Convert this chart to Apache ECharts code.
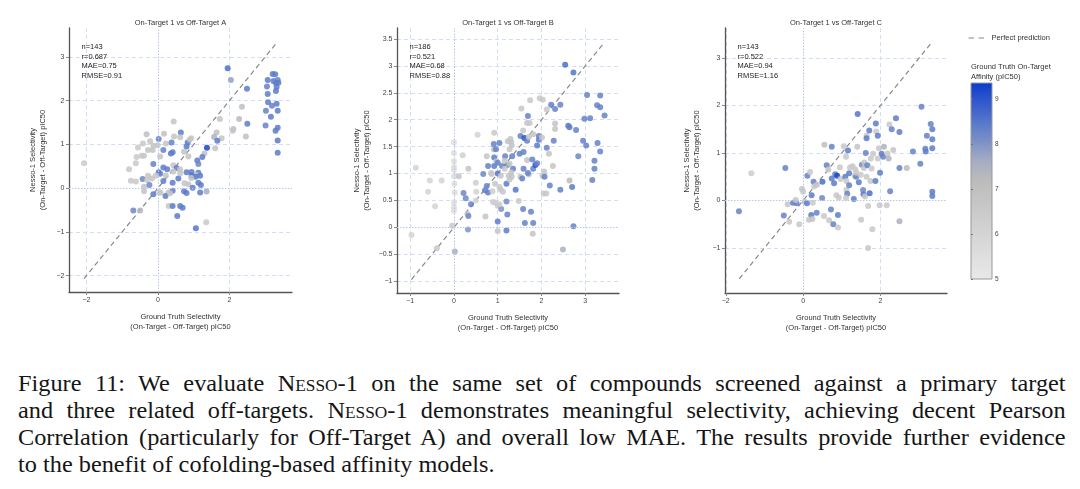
<!DOCTYPE html>
<html>
<head>
<meta charset="utf-8">
<script src="https://cdn.jsdelivr.net/npm/echarts@6.0.0/dist/echarts.min.js"></script>
<style>
  html, body { margin: 0; padding: 0; background: #fff; }
  #wrap { position: relative; width: 1080px; height: 489px; overflow: hidden; }
  #chart { position: absolute; left: 0; top: 0; width: 1080px; height: 350px; }
  #cap { position: absolute; left: 18px; top: 369.5px; width: 970px;
         transform: scaleX(1.08); transform-origin: 0 0;
         font-family: "Liberation Serif", "DejaVu Serif", serif; font-size: 22.5px;
         line-height: 27.2px; color: #151515; }
  #cap div { white-space: nowrap; }
  #cap .j { text-align: justify; text-align-last: justify; }
  #cap .l { text-align: left; }
  .sc { font-variant: small-caps; }
</style>
</head>
<body>
<div id="wrap">
  <div id="chart"></div>
  <div id="cap">
    <div class="j">Figure 11: We evaluate <span class="sc">Nesso</span>-1 on the same set of compounds screened against a primary target</div>
    <div class="j">and three related off-targets. <span class="sc">Nesso</span>-1 demonstrates meaningful selectivity, achieving decent Pearson</div>
    <div class="j">Correlation (particularly for Off-Target A) and overall low MAE. The results provide further evidence</div>
    <div class="l">to the benefit of cofolding-based affinity models.</div>
  </div>
</div>
<script>
// ---------------- DATA ----------------
const panelTitles = ['On-Target 1 vs Off-Target A', 'On-Target 1 vs Off-Target B', 'On-Target 1 vs Off-Target C'];
const statN = [143, 186, 143];
const statR = ['0.687', '0.521', '0.522'];
const statMAE = ['0.75', '0.68', '0.94'];
const statRMSE = ['0.91', '0.88', '1.16'];

const xTicks = [[-2, 0, 2], [-1, 0, 1, 2, 3], [-2, 0, 2]];
const yTicks = [[-2, -1, 0, 1, 2, 3], [-1, -0.5, 0, 0.5, 1, 1.5, 2, 2.5, 3, 3.5], [-1, 0, 1, 2, 3]];
const xRange = [[-2.49, 3.75], [-1.30, 3.77], [-2.02, 3.72]];
const yRange = [[-2.375, 3.66], [-1.22, 3.705], [-1.95, 3.63]];

// perfect prediction line endpoints (y = x)
const diagA = [-2.07, 3.34];
const diagB = [-0.97, 3.44];
const diagC = [-1.65, 3.35];

// colour bar
const cbTicks = [5, 6, 7, 8, 9];
const cbRange = [5, 9.35];

// Panel A: ground truth selectivity, predicted selectivity, ground-truth on-target pIC50
const gtA = [-2.07,1.95,2.04,2.49,2.35,2.27,2.50,2.11,2.09,2.46,1.73,1.64,1.78,1.57,1.66,1.60,1.37,1.30,1.24,1.10,1.13,
  3.21,3.28,3.07,3.23,3.35,3.30,3.37,3.05,3.32,3.30,3.07,3.08,3.32,3.19,3.02,3.35,3.16,3.01,3.35,3.29,3.35,3.35,
  0.44,-0.32,0.17,0.45,0.64,0.62,0.02,-0.22,-0.42,-0.13,-0.01,0.22,0.38,0.83,0.89,0.93,-0.56,-0.28,-0.15,0.15,0.41,0.36,0.80,0.73,0.85,
  -0.60,-0.45,-0.39,0.06,-0.62,-0.13,-0.81,0.43,0.15,0.26,0.52,0.62,0.43,0.02,0.22,0.06,-0.06,1.13,0.94,0.80,1.08,0.94,1.05,1.18,0.93,
  -0.28,-0.43,-0.17,-0.30,-0.76,-0.62,0.15,0.41,0.57,0.62,0.74,1.13,1.20,0.85,0.97,-0.39,-0.24,-0.39,0.04,0.07,0.29,0.41,0.73,0.80,1.18,1.36,
  -0.13,0.21,0.34,0.30,0.41,0.62,0.69,-0.69,-0.50,0.54,1.35,1.06];
const predA = [0.57,2.74,2.47,2.27,1.86,1.58,1.47,1.35,1.31,1.18,1.58,1.27,1.14,1.17,1.08,0.91,0.92,0.79,0.71,0.63,0.55,
  2.61,2.60,2.47,2.45,2.47,2.40,2.41,2.32,2.31,2.22,2.15,1.96,1.93,1.88,1.77,1.77,1.63,1.43,1.38,1.31,1.09,0.81,
  1.52,1.23,1.24,1.18,1.27,1.16,1.12,1.07,1.02,0.97,0.98,1.02,1.04,1.04,1.11,1.14,0.93,0.87,0.87,0.87,0.82,0.79,0.95,0.83,0.72,
  0.71,0.74,0.74,0.72,0.57,0.55,0.43,0.52,0.47,0.43,0.46,0.43,0.38,0.36,0.29,0.33,0.28,0.35,0.37,0.36,0.30,0.28,0.26,0.28,0.23,
  0.28,0.21,0.22,0.18,0.17,0.15,0.16,0.12,0.22,0.34,0.11,0.12,0.07,0.09,0.01,0.03,0.07,-0.07,-0.10,-0.10,-0.10,-0.06,-0.07,-0.11,-0.10,-0.08,
  -0.14,-0.18,-0.12,-0.41,-0.41,-0.41,-0.45,-0.51,-0.51,-0.64,-0.78,-0.92];
const affA = [6.5,8.6,7.8,8.4,7.0,7.2,8.4,7.0,6.8,7.0,6.8,7.0,6.8,7.5,8.4,6.8,9.2,7.0,8.4,8.4,8.2,
  8.4,8.4,8.4,8.4,8.3,8.4,8.4,8.3,8.4,8.4,8.4,8.4,8.4,8.3,8.3,8.4,8.4,8.3,8.4,8.4,8.4,8.4,
  6.8,7.0,6.9,6.8,8.4,6.8,8.3,6.8,6.6,6.8,6.8,6.8,8.3,8.4,6.8,6.8,6.6,6.8,6.8,8.3,8.4,8.4,8.4,6.8,6.8,
  6.6,6.8,6.6,6.8,6.6,8.3,6.6,6.8,8.4,8.4,8.4,6.8,6.8,8.4,6.8,8.3,6.8,8.4,8.4,8.4,6.8,8.5,8.4,8.4,6.8,
  6.8,8.2,6.8,6.6,6.6,6.6,8.4,8.4,8.4,6.8,6.8,8.4,8.4,6.8,8.4,6.8,8.2,6.8,6.8,6.6,6.8,8.4,8.4,8.4,8.4,7.6,
  8.4,8.4,6.8,6.8,8.4,8.4,8.4,8.2,7.4,8.4,6.6,8.5];

// Panel B
const gtB = [-0.97,-0.87,-0.55,-0.59,-0.28,-0.43,-0.39,
  0.00,0.00,0.00,0.00,0.00,0.00,0.01,0.02,0.00,0.00,0.00,-0.04,0.02,
  0.11,0.20,0.33,0.54,0.50,0.50,0.51,0.22,0.27,0.39,0.31,0.33,0.32,0.72,0.67,0.71,0.78,0.75,0.78,0.75,0.85,0.91,0.91,0.92,0.96,0.92,0.92,
  1.00,0.97,1.04,1.00,1.04,0.94,1.07,1.12,0.94,1.00,1.08,1.00,1.00,1.20,1.22,1.20,1.17,1.10,1.20,1.07,1.22,1.27,1.23,1.29,1.31,1.27,1.33,
  1.32,1.35,1.31,1.25,1.32,1.27,1.41,1.48,1.54,1.52,1.61,1.50,1.59,1.52,1.56,1.59,1.58,1.62,1.58,1.69,1.67,1.73,1.74,1.67,1.71,1.67,1.71,
  1.69,1.76,1.81,1.80,1.81,1.79,1.81,1.86,1.90,1.90,1.94,1.94,2.01,1.96,2.03,2.02,2.06,2.07,2.05,2.11,2.12,2.17,2.12,2.22,2.31,2.31,2.31,
  2.28,2.26,2.19,2.43,2.43,2.49,2.54,2.73,2.61,2.64,2.79,2.64,2.70,2.73,2.84,2.95,2.98,3.02,3.04,3.11,3.16,3.21,3.21,3.27,3.28,3.34,3.34,
  3.34,3.44,0.86,1.16,1.16,1.04,0.88,0.89];
const predB = [-0.14,1.11,0.87,0.66,0.87,0.39,-0.39,
  1.58,1.38,1.23,1.12,1.07,0.95,0.81,0.65,0.46,0.37,0.31,0.03,-0.45,
  0.95,1.34,1.09,1.72,0.83,0.50,0.66,0.64,0.54,0.43,0.25,0.21,-0.04,0.20,0.99,0.69,0.65,0.77,1.14,1.32,1.01,1.45,1.55,1.76,1.45,1.30,1.14,
  1.00,1.23,1.57,1.20,0.75,0.81,0.70,0.66,0.46,0.40,0.34,0.11,-0.07,0.48,0.24,-0.06,1.32,1.14,0.81,0.96,1.16,1.18,1.60,1.64,1.58,1.45,1.32,
  1.52,1.09,1.02,0.96,0.94,0.89,0.70,0.49,2.21,1.70,1.66,1.37,1.40,0.94,0.91,1.09,0.34,0.08,1.80,2.07,1.94,1.94,2.36,1.61,1.68,1.25,0.98,
  1.01,0.29,0.08,-0.12,1.73,1.26,1.09,1.16,1.19,1.52,1.63,1.70,1.67,2.40,2.37,0.96,1.04,0.94,0.63,0.63,1.48,1.37,2.19,2.28,2.20,1.93,1.83,
  1.61,1.14,0.78,2.28,0.70,-0.41,3.02,2.88,1.89,1.86,1.81,0.87,0.75,0.02,1.32,1.61,2.02,1.52,2.46,2.03,0.88,1.24,1.09,2.27,1.57,2.45,2.23,
  1.41,2.08,0.99,1.09,1.24,0.43,0.67,0.47];
const affB = [6.0,6.0,6.0,6.0,6.0,6.0,6.6,
  5.6,5.6,5.6,5.6,5.6,5.6,5.6,5.6,5.6,5.6,5.6,6.6,7.6,
  6.8,6.2,6.8,6.0,6.3,6.0,6.0,8.2,8.2,8.3,6.8,8.2,8.0,6.8,8.2,8.3,8.4,8.3,8.3,6.8,6.8,6.8,8.3,6.6,8.3,8.4,8.4,
  8.5,6.8,8.3,8.3,6.6,6.6,6.6,6.6,6.4,6.6,8.0,8.4,6.8,8.2,8.3,8.4,8.3,8.3,8.4,6.8,8.3,6.8,6.8,6.8,6.8,6.8,8.3,
  6.8,8.3,6.8,6.8,6.8,6.8,8.5,6.6,6.6,8.3,9.0,8.3,8.3,6.8,8.3,8.3,8.3,8.3,6.6,8.3,6.8,6.6,6.6,8.3,6.8,6.8,6.8,
  8.3,8.3,8.3,6.8,6.8,8.3,8.3,9.0,8.3,8.4,8.4,8.3,6.8,6.6,6.6,6.6,6.8,8.3,6.6,6.6,8.3,6.8,6.6,8.3,8.3,6.8,6.8,
  8.3,6.8,8.3,8.3,8.3,7.5,8.6,8.5,8.4,8.4,8.3,7.2,8.4,8.3,8.2,8.3,8.3,8.3,8.3,8.3,8.3,8.3,8.3,8.3,8.3,8.3,8.3,
  8.3,8.3,6.6,6.6,6.8,6.4,6.4,6.4];

// Panel C
const gtC = [-1.66,-1.34,-0.46,-0.50,-0.40,-0.36,-0.26,-0.17,-0.19,-0.10,-0.03,0.00,0.04,0.10,0.11,0.18,0.22,0.27,0.29,0.25,0.21,0.15,
  0.24,0.35,0.36,0.50,0.49,0.54,0.55,0.61,0.65,0.67,0.72,0.74,0.74,0.78,0.80,0.83,0.88,0.90,0.90,0.86,0.92,0.95,0.97,1.05,1.09,1.11,
  1.12,1.12,1.14,1.11,1.16,1.19,1.19,1.21,1.28,1.33,1.35,1.31,1.37,1.38,1.40,1.41,1.44,1.50,1.52,1.49,1.55,1.56,1.57,1.58,1.60,1.62,
  1.64,1.64,1.66,1.68,1.68,1.64,1.71,1.72,1.74,1.75,1.77,1.79,1.81,1.87,1.88,1.89,1.93,1.93,1.96,1.99,1.98,2.03,2.07,2.09,2.16,2.18,
  2.21,2.23,2.25,2.29,2.33,2.40,2.49,2.49,2.49,2.68,2.84,3.03,3.06,3.16,3.17,3.20,3.30,3.34,3.34,3.34,3.34,3.34];
const predC = [-0.23,0.57,0.68,-0.32,-0.08,-0.45,-0.05,-0.06,0.01,-0.50,0.24,0.18,-0.03,-0.06,0.52,0.60,0.11,0.39,0.30,-0.05,-0.31,-0.41,
  -0.39,-0.26,0.33,0.39,0.05,-0.33,1.17,0.74,0.65,-0.42,-0.19,1.13,0.46,-0.50,0.36,0.55,0.52,-0.57,-0.31,0.11,0.06,0.70,0.45,1.14,0.50,0.92,
  0.41,0.22,0.14,0.05,1.05,0.57,0.32,0.69,0.72,0.52,0.65,0.03,0.50,0.58,1.13,1.82,0.38,-0.41,0.75,0.54,0.22,0.13,0.68,0.80,0.08,1.00,
  1.36,1.31,0.74,-0.12,-1.00,0.50,1.47,0.15,0.41,0.88,0.67,-0.61,0.98,0.41,1.62,1.45,1.36,0.88,1.10,0.58,-0.10,0.98,0.92,1.13,-0.10,0.99,
  0.88,1.60,0.19,1.50,1.06,1.73,1.44,0.68,-0.44,0.68,1.03,0.77,1.97,1.09,1.03,1.36,1.61,1.50,1.29,1.10,0.18,0.09];
const affC = [8.3,6.4,8.3,8.3,6.8,6.6,8.4,8.3,6.8,6.6,6.8,6.6,6.8,8.4,8.3,6.6,8.4,8.3,6.8,6.6,8.4,6.8,
  6.8,8.3,6.8,8.6,8.2,6.6,7.0,8.3,6.8,6.6,8.3,8.3,8.4,8.3,8.4,8.4,9.2,6.6,8.4,6.6,6.6,6.6,6.6,6.6,8.4,6.6,
  6.6,6.6,8.3,6.6,8.4,8.4,8.3,6.6,6.6,6.6,6.6,8.4,8.3,6.6,6.8,8.5,8.4,6.6,8.3,6.6,8.2,8.4,6.6,6.6,6.6,8.3,
  6.6,8.4,8.3,6.6,6.6,6.6,8.4,8.6,6.6,6.6,6.6,6.6,6.6,8.4,8.4,6.6,8.4,6.6,6.6,8.4,6.6,8.4,8.3,7.4,6.6,6.6,
  7.4,6.6,8.3,8.3,6.8,8.4,8.4,8.3,7.5,7.2,8.3,8.3,8.3,8.3,8.4,8.3,8.3,8.4,8.4,8.4,8.4,8.4];

// colour scale (evenly spaced from 5 to 9.35)
const cbColors = ['#e8e8e8','#e0e0e0','#d7d7d7','#cecece','#c5c5c5','#bcbcbc','#a5adc2','#7b91c6','#5677ca','#3359cb','#0a3ccc'];

// ---------------- CHART ----------------
const FONT = '"Liberation Sans", Arial, sans-serif';
const gtAll = [gtA, gtB, gtC];
const predAll = [predA, predB, predC];
const affAll = [affA, affB, affC];
const diagAll = [diagA, diagB, diagC];

const grids = [
  { left: 69, top: 28, width: 223, height: 264 },
  { left: 397, top: 28, width: 222, height: 265 },
  { left: 725, top: 28, width: 222, height: 265 }
];
const yNameGap = [21, 25.5, 23];

const fmt = v => String(v).replace('-', '\u2212');

const chart = echarts.init(document.getElementById('chart'), null, { renderer: 'canvas' });

const xAxes = [], yAxes = [], series = [], titles = [];
for (let i = 0; i < 3; i++) {
  const gridColor = t => t.map(v => v === 0 ? 'rgba(0,0,0,0)' : '#d3ddf3');
  xAxes.push({
    type: 'value', gridIndex: i, min: xRange[i][0], max: xRange[i][1],
    name: 'Ground Truth Selectivity\n(On-Target - Off-Target) pIC50',
    nameLocation: 'middle', nameGap: 20,
    nameTextStyle: { fontFamily: FONT, fontSize: 7.5, color: '#333', lineHeight: 10 },
    axisLine: { show: true, onZero: false, lineStyle: { color: '#555', width: 1.3 } },
    axisTick: { show: true, length: 3, customValues: xTicks[i], lineStyle: { color: '#888' } },
    axisLabel: { customValues: xTicks[i], formatter: fmt, fontFamily: FONT, fontSize: 7, color: '#444', margin: 5 },
    splitLine: { show: true, lineStyle: { type: [4, 3], color: gridColor(xTicks[i]), width: 1 } }
  });
  yAxes.push({
    type: 'value', gridIndex: i, min: yRange[i][0], max: yRange[i][1],
    name: 'Nesso-1 Selectivity\n(On-Target - Off-Target) pIC50',
    nameLocation: 'middle', nameGap: yNameGap[i], nameRotate: 90,
    nameTextStyle: { fontFamily: FONT, fontSize: 7.5, color: '#333', lineHeight: 10 },
    axisLine: { show: true, onZero: false, lineStyle: { color: '#555', width: 1.3 } },
    axisTick: { show: true, length: 3, customValues: yTicks[i], lineStyle: { color: '#888' } },
    axisLabel: { customValues: yTicks[i], formatter: fmt, fontFamily: FONT, fontSize: 7, color: '#444', margin: 4.5 },
    splitLine: { show: true, lineStyle: { type: [4, 3], color: gridColor(yTicks[i]), width: 1 } }
  });
  series.push({
    name: 'Perfect prediction', type: 'line', xAxisIndex: i, yAxisIndex: i,
    data: diagAll[i].map(v => [v, v]), symbol: 'none', silent: true, z: 1,
    lineStyle: { color: '#888', width: 1.2, type: [5, 3.5] },
    markLine: {
      silent: true, symbol: ['none', 'none'], label: { show: false },
      lineStyle: { type: [1.5, 1.5], color: '#b5c6ee', width: 1 },
      data: [{ xAxis: 0 }, { yAxis: 0 }]
    }
  });
  series.push({
    name: 'pts' + i, type: 'scatter', xAxisIndex: i, yAxisIndex: i, z: 3,
    symbolSize: 6,
    itemStyle: { opacity: 0.85 },
    data: gtAll[i].map((x, k) => [x, predAll[i][k], affAll[i][k]])
  });
  titles.push({
    text: panelTitles[i], left: grids[i].left + grids[i].width / 2, top: 18.5, textAlign: 'center', padding: 0,
    textStyle: { fontFamily: FONT, fontSize: 7.5, fontWeight: 'normal', color: '#333', lineHeight: 9 }
  });
  titles.push({
    text: 'n=' + statN[i] + '\nr=' + statR[i] + '\nMAE=' + statMAE[i] + '\nRMSE=' + statRMSE[i],
    left: grids[i].left + 12.5, top: 42, padding: 0,
    textStyle: { fontFamily: FONT, fontSize: 7.5, fontWeight: 'normal', color: '#222', lineHeight: 9.7 }
  });
}

// colour bar grid
const cbGradient = new echarts.graphic.LinearGradient(0, 0, 0, 1,
  cbColors.slice().reverse().map((c, i, a) => ({ offset: i / (a.length - 1), color: c })));
grids.push({ left: 971, top: 83, width: 21, height: 196, show: true, backgroundColor: cbGradient, borderColor: '#999', borderWidth: 1 });
xAxes.push({ type: 'value', gridIndex: 3, min: 0, max: 1, show: false });
yAxes.push({
  type: 'value', gridIndex: 3, min: cbRange[0], max: cbRange[1], position: 'right',
  axisLine: { show: false },
  axisTick: { show: true, length: 2, customValues: cbTicks, lineStyle: { color: '#777' } },
  axisLabel: { customValues: cbTicks, fontFamily: FONT, fontSize: 6.5, color: '#444', margin: 3 },
  splitLine: { show: false }
});
series.push({ name: 'cb', type: 'scatter', xAxisIndex: 3, yAxisIndex: 3, data: [] });
titles.push({
  text: 'Ground Truth On-Target\nAffinity (pIC50)', left: 971, top: 61.7, padding: 0,
  textStyle: { fontFamily: FONT, fontSize: 7.5, fontWeight: 'normal', color: '#333', lineHeight: 10 }
});

chart.setOption({
  animation: false,
  backgroundColor: '#fff',
  title: titles,
  grid: grids,
  xAxis: xAxes,
  yAxis: yAxes,
  legend: {
    data: ['Perfect prediction'], left: 968, top: 34, padding: 0,
    itemWidth: 18, itemHeight: 8, itemGap: 5,
    itemStyle: { color: 'rgba(0,0,0,0)', borderColor: 'rgba(0,0,0,0)', borderWidth: 0, opacity: 0 },
    lineStyle: { color: '#888', width: 1.2, type: [5.5, 4.5] },
    textStyle: { fontFamily: FONT, fontSize: 7.5, color: '#333' }
  },
  visualMap: {
    type: 'continuous', show: false, min: cbRange[0], max: cbRange[1], dimension: 2,
    seriesIndex: [1, 3, 5], inRange: { color: cbColors }
  },
  series: series
});
</script>
</body>
</html>
